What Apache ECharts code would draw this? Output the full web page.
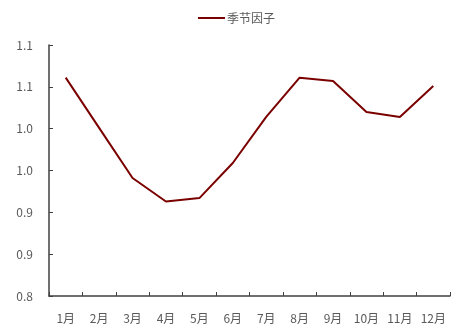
<!DOCTYPE html>
<html>
<head>
<meta charset="utf-8">
<script src="https://cdn.jsdelivr.net/npm/echarts@6/dist/echarts.min.js"></script>
<style>html,body{margin:0;padding:0;background:#fff}#c{width:473px;height:336px}</style>
</head>
<body>
<div id="c"></div>
<script>
const categories = ['1月','2月','3月','4月','5月','6月','7月','8月','9月','10月','11月','12月'];
const seriesName = '季节因子';
const seasonalFactor = [1.061, 1.001, 0.941, 0.913, 0.917, 0.959, 1.014, 1.061, 1.057, 1.020, 1.014, 1.051];
const yMin = 0.8, yMax = 1.1, yInterval = 0.05;

const chart = echarts.init(document.getElementById('c'));
const font = '"Noto Sans CJK SC", "Noto Sans", sans-serif';
chart.setOption({
  animation: false,
  textStyle: { fontFamily: font },
  legend: {
    top: 7, left: 'center',
    itemWidth: 27, itemHeight: 2, itemGap: 10,
    icon: 'rect',
    textStyle: { color: '#595959', fontSize: 12, fontFamily: font, padding: [0,0,0,-3] },
    data: [seriesName]
  },
  grid: { left: 49, right: 23, top: 45, bottom: 40, containLabel: false },
  xAxis: {
    type: 'category', data: categories, boundaryGap: true,
    axisLine: { lineStyle: { color: '#404040', width: 1.5 } },
    axisTick: { show: true, inside: true, length: 4, alignWithLabel: false, lineStyle: { color: '#404040' } },
    axisLabel: { color: '#595959', fontSize: 12, margin: 16, interval: 0, fontFamily: font },
    splitLine: { show: false }
  },
  yAxis: {
    type: 'value', min: yMin, max: yMax, interval: yInterval,
    axisLine: { show: true, lineStyle: { color: '#404040', width: 1.5 } },
    axisTick: { show: true, inside: true, length: 4, lineStyle: { color: '#404040' } },
    axisLabel: { color: '#595959', fontSize: 12, margin: 16, fontFamily: font,
      formatter: v => (Math.round(v * 10 + 1e-9) / 10).toFixed(1) },
    splitLine: { show: false }
  },
  series: [{
    name: seriesName, type: 'line', data: seasonalFactor,
    showSymbol: false, symbol: 'none',
    lineStyle: { color: '#7a0000', width: 2 },
    itemStyle: { color: '#7a0000' }
  }]
});
</script>
</body>
</html>
